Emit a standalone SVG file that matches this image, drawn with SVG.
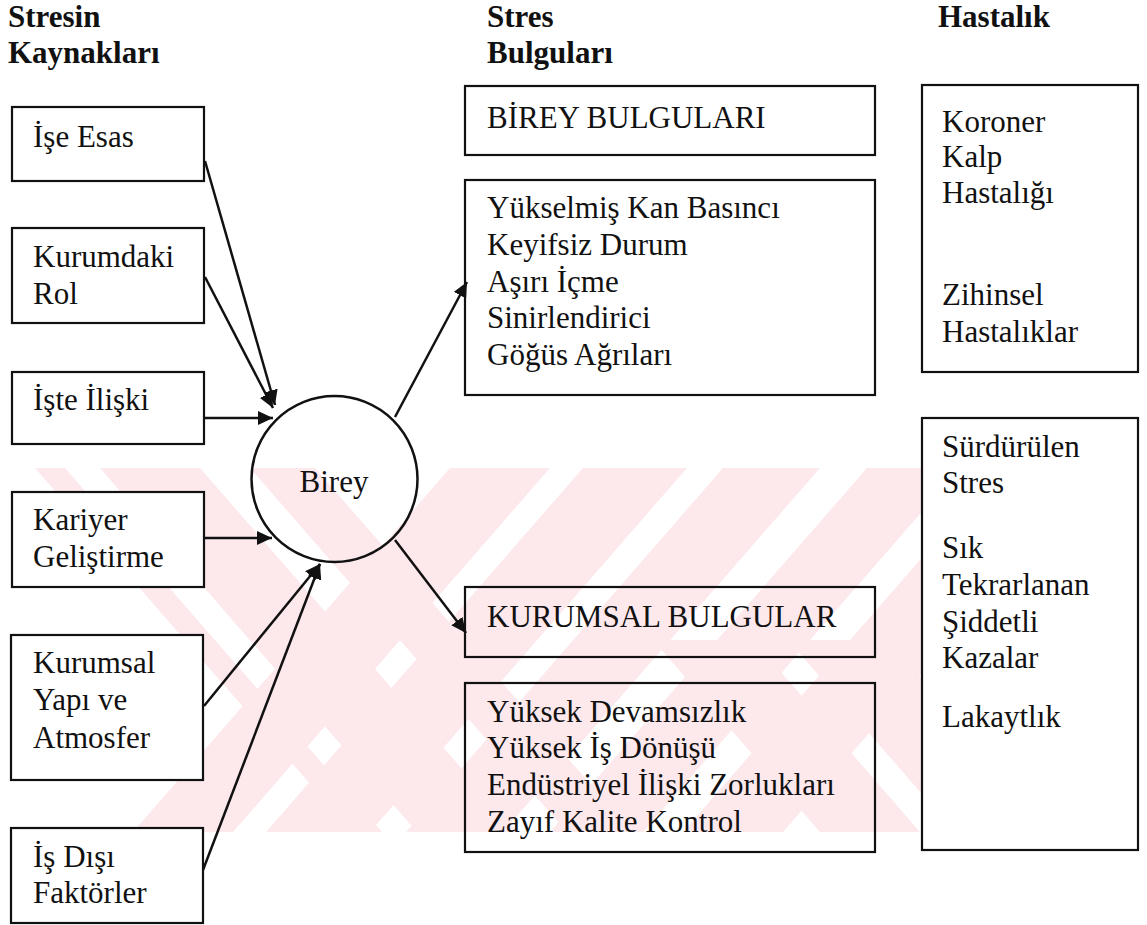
<svg xmlns="http://www.w3.org/2000/svg" width="1147" height="925" viewBox="0 0 1147 925">
<style>
text{font-family:"Liberation Serif","Times New Roman",serif;font-size:31px;fill:#111}
.h{font-weight:bold}
.box{fill:none;stroke:#111;stroke-width:2.2}
.wbox{fill:#fff;stroke:#111;stroke-width:2.2}
.c{fill:none;stroke:#111;stroke-width:2.5}
.wm{fill:#fde8ec}
</style>
<defs>
<marker id="ah" markerUnits="userSpaceOnUse" markerWidth="16" markerHeight="14" refX="15" refY="7" orient="auto">
<path d="M0,0 L15,7 L0,14 z" fill="#111"/>
</marker>
<clipPath id="band"><rect x="30" y="468" width="1117" height="364"/></clipPath>
</defs>
<rect width="1147" height="925" fill="#fff"/>
<g id="watermark" clip-path="url(#band)">
<polygon class="wm" points="35,468 65,468 382,832 352,832"/>
<polygon class="wm" points="100,468 200,468 517,832 417,832"/>
<polygon class="wm" points="250,468 315,468 632,832 567,832"/>
<polygon class="wm" points="450,468 550,468 233,832 133,832"/>
<polygon class="wm" points="583,468 687,468 370,832 266,832"/>
<polygon class="wm" points="723,468 820,468 503,832 406,832"/>
<polygon class="wm" points="867,468 960,468 643,832 550,832"/>
<polygon class="wm" points="1000,468 1100,468 783,832 683,832"/>
<polygon class="wm" points="653,640 753,640 920,832 820,832"/>
<polygon class="wm" points="788,640 888,640 1055,832 955,832"/>
</g>
<g id="headers">
<text class="h" x="8" y="27">Stresin</text>
<text class="h" x="8" y="63">Kaynakları</text>
<text class="h" x="487" y="27">Stres</text>
<text class="h" x="487" y="63">Bulguları</text>
<text class="h" x="938" y="27">Hastalık</text>
</g>
<g id="connectors">
<line class="c" x1="205" y1="161" x2="275" y2="405" marker-end="url(#ah)"/>
<line class="c" x1="205" y1="277" x2="273" y2="408" marker-end="url(#ah)"/>
<line class="c" x1="204" y1="418" x2="273" y2="418" marker-end="url(#ah)"/>
<line class="c" x1="204" y1="538" x2="272" y2="538" marker-end="url(#ah)"/>
<line class="c" x1="204" y1="706" x2="320" y2="564" marker-end="url(#ah)"/>
<line class="c" x1="203" y1="870" x2="320" y2="564" marker-end="url(#ah)"/>
<line class="c" x1="395" y1="417" x2="467" y2="282" marker-end="url(#ah)"/>
<line class="c" x1="395" y1="540" x2="466" y2="633" marker-end="url(#ah)"/>
</g>
<g id="n-ise-esas"><rect class="wbox" x="12" y="107" width="192" height="74"/><text x="33" y="147">İşe Esas</text></g>
<g id="n-kurumdaki-rol"><rect class="wbox" x="12" y="228" width="192" height="95"/><text x="33" y="267">Kurumdaki</text><text x="33" y="304">Rol</text></g>
<g id="n-iste-iliski"><rect class="wbox" x="12" y="372" width="192" height="72"/><text x="33" y="410">İşte İlişki</text></g>
<g id="n-kariyer"><rect class="wbox" x="12" y="492" width="192" height="95"/><text x="33" y="530">Kariyer</text><text x="33" y="567">Geliştirme</text></g>
<g id="n-kurumsal-yapi"><rect class="wbox" x="11" y="635" width="192" height="145"/><text x="33" y="673">Kurumsal</text><text x="33" y="710">Yapı ve</text><text x="33" y="748">Atmosfer</text></g>
<g id="n-is-disi"><rect class="wbox" x="11" y="828" width="192" height="95"/><text x="33" y="867">İş Dışı</text><text x="33" y="903">Faktörler</text></g>
<g id="n-birey"><circle class="c" cx="334.5" cy="479" r="83"/><text x="334" y="492" text-anchor="middle">Birey</text></g>
<g id="n-birey-bulgulari"><rect class="box" x="465" y="86" width="410" height="69"/><text x="487" y="128">BİREY BULGULARI</text></g>
<g id="n-birey-items"><rect class="box" x="465" y="180" width="410" height="215"/>
<text x="487" y="218">Yükselmiş Kan Basıncı</text><text x="487" y="255">Keyifsiz Durum</text><text x="487" y="292">Aşırı İçme</text><text x="487" y="328">Sinirlendirici</text><text x="487" y="365">Göğüs Ağrıları</text></g>
<g id="n-kurumsal-bulgular"><rect class="box" x="465" y="587" width="410" height="70"/><text x="487" y="627">KURUMSAL BULGULAR</text></g>
<g id="n-kurumsal-items"><rect class="box" x="465" y="683" width="410" height="169"/>
<text x="487" y="722">Yüksek Devamsızlık</text><text x="487" y="758">Yüksek İş Dönüşü</text><text x="487" y="795">Endüstriyel İlişki Zorlukları</text><text x="487" y="832">Zayıf Kalite Kontrol</text></g>
<g id="n-hastalik-1"><rect class="wbox" x="922" y="85" width="216" height="287"/>
<text x="942" y="132">Koroner</text><text x="942" y="167">Kalp</text><text x="942" y="203">Hastalığı</text><text x="942" y="305">Zihinsel</text><text x="942" y="342">Hastalıklar</text></g>
<g id="n-hastalik-2"><rect class="wbox" x="922" y="418" width="216" height="432"/>
<text x="942" y="457">Sürdürülen</text><text x="942" y="493">Stres</text><text x="942" y="558">Sık</text><text x="942" y="595">Tekrarlanan</text><text x="942" y="632">Şiddetli</text><text x="942" y="668">Kazalar</text><text x="942" y="727">Lakaytlık</text></g>
</svg>
